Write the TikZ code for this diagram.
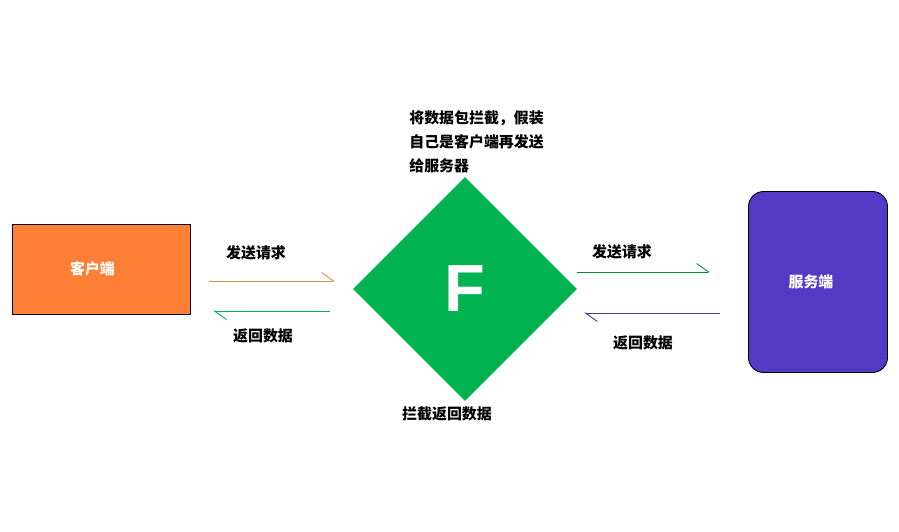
\documentclass[tikz,border=0pt]{standalone}
\usepackage{fontspec}
\newfontfamily\cjk{Noto Sans CJK SC}
\newfontfamily\letterfont{Liberation Sans}
\usepackage{tikz}
\usetikzlibrary{shapes.geometric, arrows.meta, positioning}
\definecolor{clientorange}{RGB}{255,127,55}
\definecolor{proxygreen}{RGB}{0,178,80}
\definecolor{serverpurple}{RGB}{82,58,196}
\definecolor{sendorange}{RGB}{212,146,72}
\definecolor{backpurple}{RGB}{70,56,160}
\tikzset{
    label/.style={font=\cjk\bfseries\fontsize{8.5}{10}\selectfont, text=black, inner sep=0pt},
    boxlabel/.style={font=\cjk\bfseries\fontsize{8.5}{10}\selectfont, text=white},
    halfarrow/.style={line width=0.5pt, -{Straight Barb[harpoon, length=2.4mm, width=3.4mm, line width=0.5pt]}}
}

\begin{document}
\begin{tikzpicture}[x=0.02cm, y=-0.02cm]
\useasboundingbox (0,0) rectangle (899,531);
\node[draw=black, line width=0.5pt, fill=clientorange, minimum width=3.56cm, minimum height=1.8cm, boxlabel] (client) at (101,269) {客户端\hspace*{0.34cm}};
\node[diamond, fill=proxygreen, minimum width=4.48cm, minimum height=4.48cm, inner sep=0pt] (proxy) at (465,289) {};
\node[font=\letterfont\bfseries\fontsize{38}{38}\selectfont, text=white] at (proxy.center) {F};
\node[draw=black, line width=0.5pt, fill=serverpurple, rounded corners=0.3cm, minimum width=2.78cm, minimum height=3.62cm, boxlabel] (server) at (818,282) {服务端\hspace*{0.28cm}};

\node[label, anchor=south west, align=left, font=\cjk\bfseries\fontsize{8.5}{13.5}\selectfont] (note) at (409,173) {将数据包拦截，假装\\自己是客户端再发送\\给服务器};
\node[label] (intercept) at (447,414) {拦截返回数据};

\coordinate (s1a) at (209,281);
\coordinate (s1b) at (335,281);
\coordinate (r1a) at (330,311);
\coordinate (r1b) at (213,311);
\coordinate (s2a) at (577,272);
\coordinate (s2b) at (710,272);
\coordinate (r2a) at (720,313);
\coordinate (r2b) at (584,313);

\draw[halfarrow, sendorange] (s1a) -- (s1b);
\draw[halfarrow, proxygreen] (r1a) -- (r1b);
\draw[halfarrow, proxygreen!80!black] (s2a) -- (s2b);
\draw[halfarrow, backpurple] (r2a) -- (r2b);

\node[label] (send1) at (256,253) {发送请求};
\node[label] (back1) at (263,336) {返回数据};
\node[label] (send2) at (622,252) {发送请求};
\node[label] (back2) at (643,343) {返回数据};
\end{tikzpicture}
\end{document}
